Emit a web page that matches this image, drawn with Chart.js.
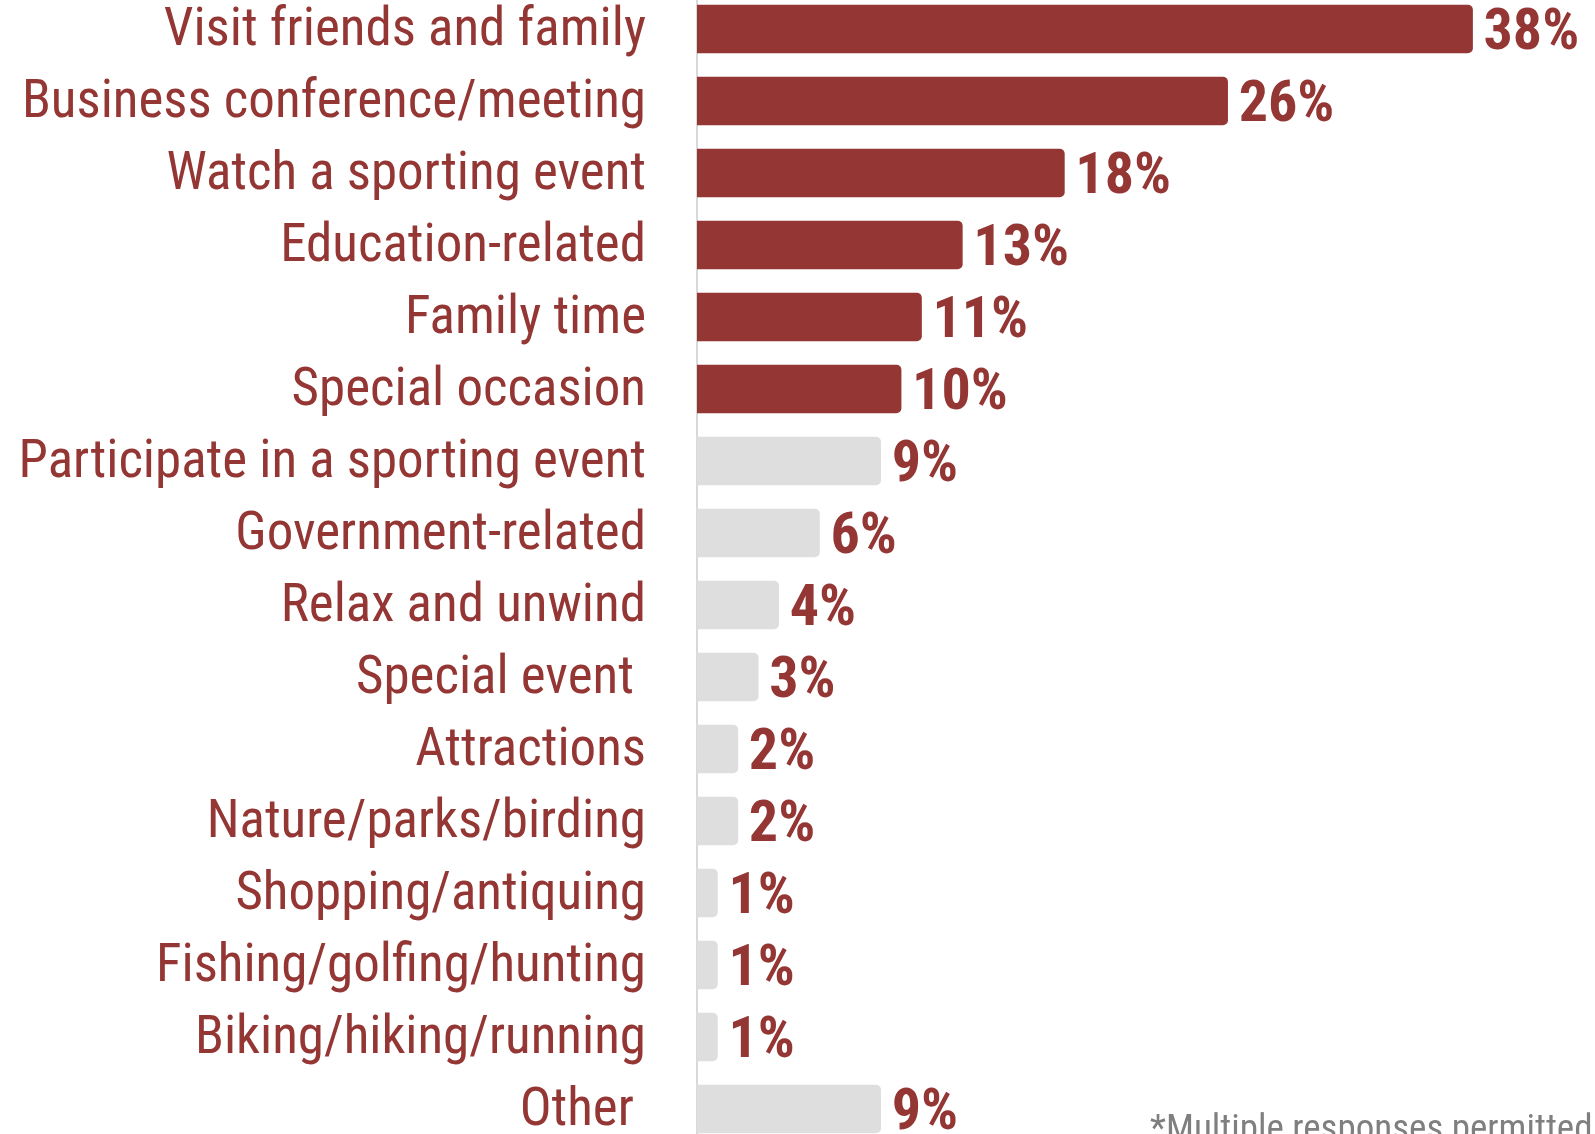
<!DOCTYPE html>
<html>
<head>
<meta charset="utf-8">
<script src="https://cdn.jsdelivr.net/npm/chart.js@4/dist/chart.umd.min.js"></script>
<style>
  html, body { margin: 0; padding: 0; background: #fff; overflow: hidden; }
  body { width: 1595px; height: 1134px; position: relative; }
  #wrap { position: absolute; left: 0; top: -7px; width: 1595px; height: 1152px; }
  #note {
    position: absolute; left: 1150px; top: 1106px; white-space: nowrap;
    font-family: Roboto, sans-serif; font-stretch: 75%;
    font-size: 37px; color: #7f7f7f;
  }
</style>
</head>
<body>
<div id="wrap"><canvas id="reasons"></canvas></div>
<div id="note">*Multiple responses permitted</div>
<script>
const reasons = [
  'Visit friends and family', 'Business conference/meeting', 'Watch a sporting event',
  'Education-related', 'Family time', 'Special occasion', 'Participate in a sporting event',
  'Government-related', 'Relax and unwind', 'Special event ', 'Attractions',
  'Nature/parks/birding', 'Shopping/antiquing', 'Fishing/golfing/hunting',
  'Biking/hiking/running', 'Other '
];
const shares = [38, 26, 18, 13, 11, 10, 9, 6, 4, 3, 2, 2, 1, 1, 1, 9];
const topCount = 6;

const RED = '#943634';
const GREY = '#dedede';
const FONT = 'Roboto, sans-serif';

// percent labels just past the end of each bar
const valueLabels = {
  id: 'valueLabels',
  afterDatasetsDraw(chart) {
    const ctx = chart.ctx;
    const meta = chart.getDatasetMeta(0);
    ctx.save();
    ctx.font = 'normal bold condensed 58px ' + FONT;
    ctx.fillStyle = RED;
    ctx.textAlign = 'left';
    ctx.textBaseline = 'middle';
    meta.data.forEach((bar, i) => {
      ctx.fillText(shares[i] + '%', bar.x + 11, bar.y + 5);
    });
    ctx.restore();
  }
};

new Chart(document.getElementById('reasons'), {
  type: 'bar',
  data: {
    labels: reasons,
    datasets: [{
      data: shares,
      backgroundColor: shares.map((v, i) => i < topCount ? RED : GREY),
      barThickness: 48,
      borderRadius: 5,
      borderSkipped: 'start'
    }]
  },
  options: {
    indexAxis: 'y',
    responsive: true,
    maintainAspectRatio: false,
    animation: false,
    layout: { padding: 0 },
    plugins: { legend: { display: false }, tooltip: { enabled: false } },
    scales: {
      x: { display: false, min: 0, max: 44 },
      y: {
        grid: { display: false, drawTicks: false },
        border: { color: '#d9d9d9', width: 2 },
        ticks: {
          color: RED,
          font: { family: FONT, size: 53, weight: 'normal condensed' },
          padding: 51,
          labelOffset: 3,
          autoSkip: false
        },
        afterFit(scale) {
          // fixed axis width; no extra room above/below the first and last rows
          scale.width = 697;
          scale.paddingTop = 0;
          scale.paddingBottom = 0;
        }
      }
    }
  },
  plugins: [valueLabels]
});
</script>
</body>
</html>
